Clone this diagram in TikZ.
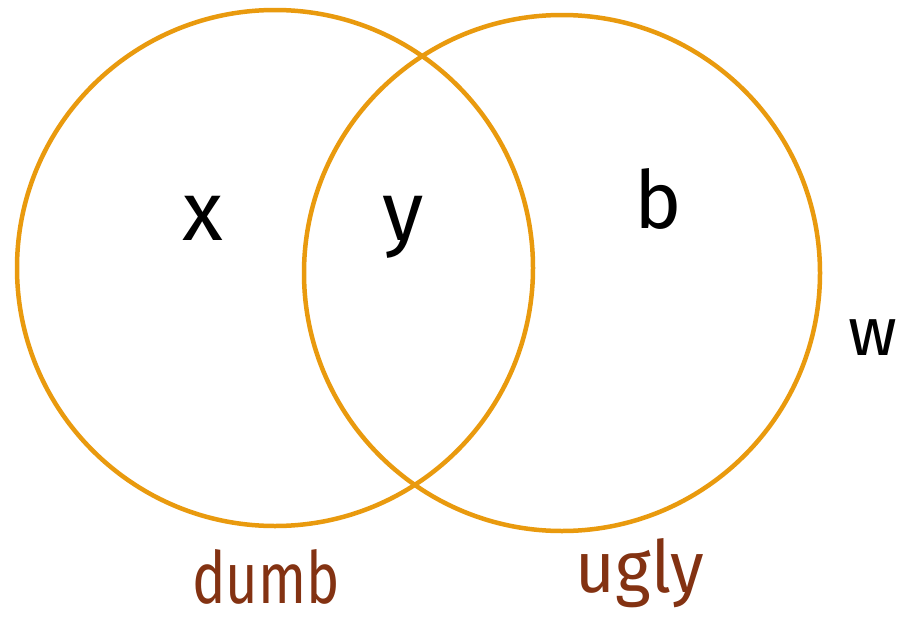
\documentclass[tikz,border=0pt]{standalone}
\usepackage{fontspec}
\setmainfont{Fira Sans}
\definecolor{ring}{HTML}{E99A0E}
\definecolor{labelbrown}{HTML}{833212}
\begin{document}
\begin{tikzpicture}[x=1pt,y=-1pt,
  ring/.style={draw=ring,line width=4.5pt},
  letter/.style={anchor=base,inner sep=0pt,text=black},
  setlabel/.style={anchor=base,inner sep=0pt,text=labelbrown,font=\fontsize{72}{80}\selectfont}]
\useasboundingbox (0,0) rectangle (900,621);
\fill[white] (0,0) rectangle (900,621);
\node[ring,circle,minimum size=516pt,inner sep=0pt] (dumbset) at (275,268) {};
\node[ring,circle,minimum size=516pt,inner sep=0pt] (uglyset) at (562,273) {};
\node[letter,font=\fontsize{84}{90}\selectfont] (xl) at (203,240) {x};
\node[letter,font=\fontsize{84}{90}\selectfont] (yl) at (403,240) {y};
\node[letter,font=\fontsize{80}{90}\selectfont] (bl) at (658,228) {b};
\node[letter,anchor=base east,font=\fontsize{68}{80}\selectfont] (wl) at (897,355) {w};
\node[setlabel] (dumb) at (266,603) {\scalebox{0.78}[1]{dumb}};
\node[setlabel] (ugly) at (640,592) {\scalebox{0.95}[1]{ugly}};
\end{tikzpicture}
\end{document}
